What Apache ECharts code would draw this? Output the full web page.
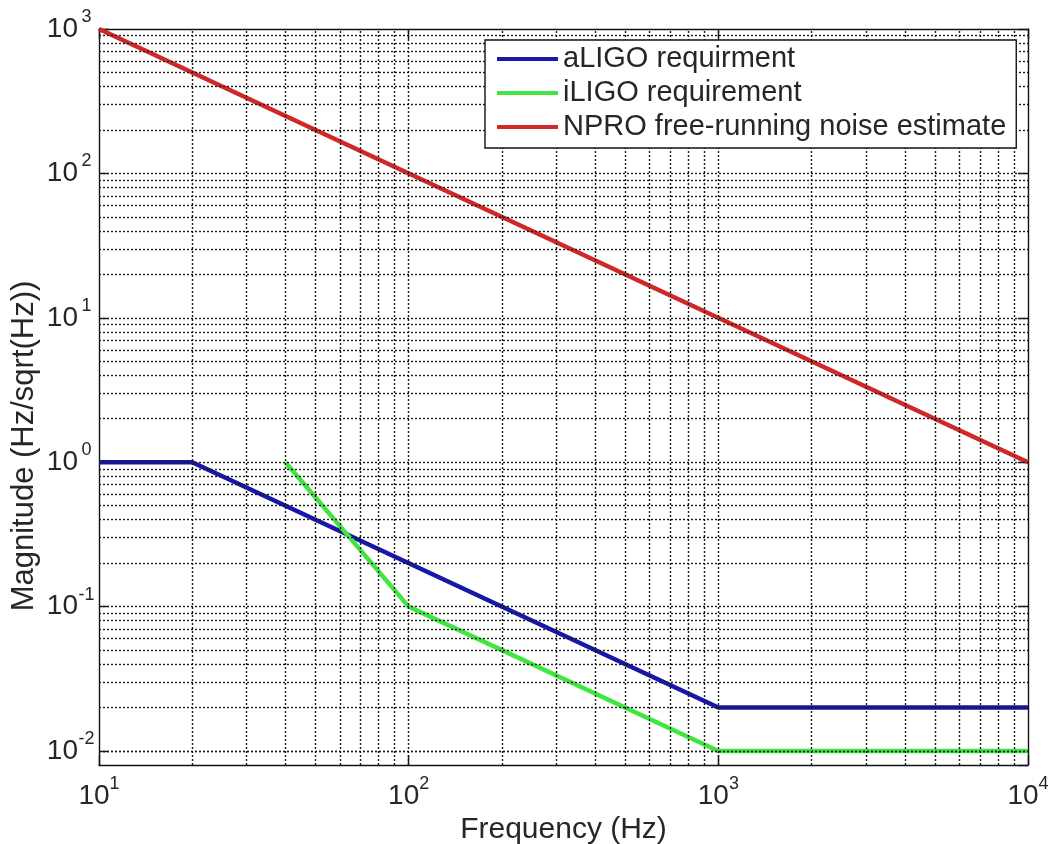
<!DOCTYPE html>
<html><head><meta charset="utf-8">
<script src="https://cdn.jsdelivr.net/npm/echarts@6/dist/echarts.min.js"></script>
<style>html,body{margin:0;padding:0;background:#fff}#c{width:1052px;height:844px}</style>
</head><body><div id="c"></div>
<script>
// ---- data ----
const aligoFreq = [10, 20, 1000, 10000];
const aligoMag  = [1, 1, 0.02, 0.02];
const iligoFreq = [40, 100, 1000, 10000];
const iligoMag  = [1, 0.1, 0.01, 0.01];
const nproFreq  = [10, 10000];
const nproMag   = [1000, 1];
const seriesNames = ['aLIGO requirment', 'iLIGO requirement', 'NPRO free-running noise estimate'];
const xDecades = [10, 100, 1000, 10000];
const yDecades = [0.001, 0.01, 0.1, 1, 10, 100, 1000];
const xRange = [10, 10000];
const yRange = [0.008, 1000];
const xTitle = 'Frequency (Hz)';
const yTitle = 'Magnitude (Hz/sqrt(Hz))';

const colors = ['#1717a8', '#40e640', '#d02828'];
const txt = '#262626';
const FONT = '"Liberation Sans", Arial, Helvetica, sans-serif';

function zip(a, b) { return a.map((v, i) => [v, b[i]]); }
function gridValues(decades, range) {
  const out = [];
  decades.forEach(d => { for (let k = 1; k <= 9; k++) { const v = +(d * k).toPrecision(6); if (v > range[0] * 1.0001 && v < range[1] * 0.9999) out.push(v); } });
  return out;
}
function expLabel(v) {
  const e = Math.log10(v), r = Math.round(e);
  if (Math.abs(e - r) > 1e-6) return '';
  return '{b|10}{s|' + r + '}';
}
const gridLine = { color: '#1a1a1a', width: 1.4, type: [2, 2] };
const xGrid = gridValues(xDecades, xRange).map(v => ({ xAxis: v }));
const yGrid = gridValues(yDecades, yRange).map(v => ({ yAxis: v }));

const baseAxis = {
  type: 'log', logBase: 10,
  axisLine: { show: true, lineStyle: { color: '#111', width: 1.4 } },
  axisTick: { show: true, inside: true, length: 10, lineStyle: { color: '#111', width: 1.4 } },
  splitLine: { show: false },
  minorTick: { show: false }, minorSplitLine: { show: false }
};

const chart = echarts.init(document.getElementById('c'), null, { renderer: 'canvas' });
chart.setOption({
  animation: false,
  backgroundColor: '#fff',
  textStyle: { fontFamily: FONT },
  grid: { left: 99, right: 24, top: 29, bottom: 79, containLabel: false, outerBoundsMode: 'none' },
  xAxis: [
    Object.assign({}, baseAxis, {
      min: xRange[0], max: xRange[1], position: 'bottom',
      name: xTitle, nameLocation: 'middle', nameGap: 48,
      nameTextStyle: { fontSize: 30, color: txt, fontFamily: FONT },
      axisLabel: { margin: 10, formatter: expLabel, showMinLabel: true, showMaxLabel: true,
        rich: { b: { fontSize: 28, color: txt, fontFamily: FONT }, s: { fontSize: 18, color: txt, fontFamily: FONT, padding: [0, 0, 24, 0] } } }
    }),
    Object.assign({}, baseAxis, { min: xRange[0], max: xRange[1], position: 'top', axisLabel: { show: false } })
  ],
  yAxis: [
    Object.assign({}, baseAxis, {
      min: yRange[0], max: yRange[1], position: 'left',
      axisLabel: { margin: 4, formatter: expLabel, showMinLabel: false, showMaxLabel: true, align: 'right',
        rich: { b: { fontSize: 28, color: txt, fontFamily: FONT }, s: { fontSize: 18, width: 17, align: 'left', color: txt, fontFamily: FONT, padding: [0, 0, 24, 0] } } }
    }),
    Object.assign({}, baseAxis, { min: yRange[0], max: yRange[1], position: 'right', axisLabel: { show: false } })
  ],
  graphic: [{
    type: 'text', x: 24, y: 446, rotation: Math.PI / 2, silent: true,
    style: { text: yTitle, font: '31px ' + FONT, fill: txt, textAlign: 'center', textVerticalAlign: 'middle' }
  }],
  legend: {
    data: seriesNames, orient: 'vertical', left: 485, top: 40, z: 20, zlevel: 0,
    icon: 'rect', itemWidth: 61, itemHeight: 4, itemGap: 4,
    padding: [4, 10, 6, 12],
    backgroundColor: '#fff', borderColor: '#111', borderWidth: 1.4, borderRadius: 0,
    textStyle: { fontSize: 29, lineHeight: 30, color: txt, fontFamily: FONT }
  },
  series: [
    { name: 'grid', type: 'line', data: [], silent: true, z: 1,
      markLine: { silent: true, symbol: ['none', 'none'], label: { show: false }, animation: false,
        lineStyle: gridLine, emphasis: { disabled: true }, data: xGrid.concat(yGrid) } },
    { name: seriesNames[0], type: 'line', data: zip(aligoFreq, aligoMag), showSymbol: false, z: 3,
      lineStyle: { color: colors[0], width: 4.5 }, itemStyle: { color: colors[0] } },
    { name: seriesNames[1], type: 'line', data: zip(iligoFreq, iligoMag), showSymbol: false, z: 3,
      lineStyle: { color: colors[1], width: 4.5 }, itemStyle: { color: colors[1] } },
    { name: seriesNames[2], type: 'line', data: zip(nproFreq, nproMag), showSymbol: false, z: 3,
      lineStyle: { color: colors[2], width: 4.5 }, itemStyle: { color: colors[2] } }
  ]
});
</script></body></html>
